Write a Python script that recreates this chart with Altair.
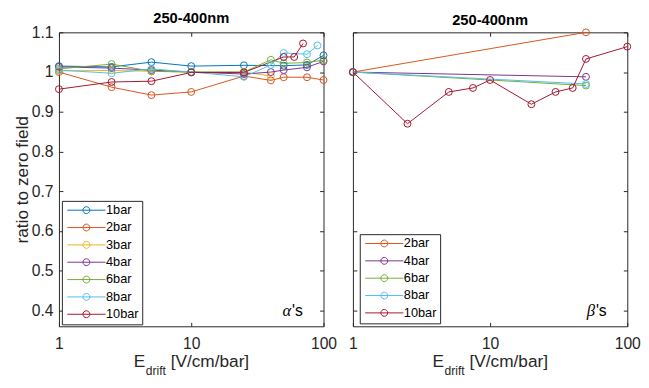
import altair as alt
import pandas as pd

FONT = "Liberation Sans"
AX = "#262626"

# ---------------- data: left panel (alpha's) ----------------
alpha_names = ["1bar", "2bar", "3bar", "4bar", "6bar", "8bar", "10bar"]
alpha_colors = ["#0072BD", "#D95319", "#EDB120", "#7E2F8E", "#77AC30", "#4DBEEE", "#A2142F"]

a1_E = [1, 2.5, 5, 10, 25, 50, 75, 100]
a1_R = [1.015, 1.013, 1.025, 1.015, 1.017, 1.016, 1.018, 1.042]
a2_E = [1, 2.5, 5, 10, 25, 40, 50, 75, 100]
a2_R = [1.0, 0.962, 0.942, 0.95, 0.99, 0.979, 0.987, 0.987, 0.98]
a3_E = [1, 2.5, 5, 10, 25, 40]
a3_R = [1.003, 1.004, 1.002, 1.0, 1.0, 0.99]
a4_E = [1, 2.5, 5, 10, 25, 40, 50, 75, 100]
a4_R = [1.013, 1.01, 1.005, 1.0, 0.995, 1.0, 1.005, 1.012, 1.027]
a6_E = [1, 2.5, 5, 10, 25, 40, 50, 75, 100]
a6_R = [1.008, 1.02, 1.002, 1.0, 1.0, 1.031, 1.022, 1.024, 1.03]
a8_E = [1, 2.5, 5, 10, 25, 40, 50, 75, 90]
a8_R = [1.005, 0.997, 1.008, 1.0, 0.988, 1.018, 1.048, 1.045, 1.067]
a10_E = [1, 2.5, 5, 10, 25, 50, 60, 70]
a10_R = [0.957, 0.975, 0.977, 0.999, 0.999, 1.038, 1.038, 1.072]

# ---------------- data: right panel (beta's) ----------------
beta_names = ["2bar", "4bar", "6bar", "8bar", "10bar"]
beta_colors = ["#D95319", "#7E2F8E", "#77AC30", "#4DBEEE", "#A2142F"]

b2_E = [1, 50]
b2_R = [1.0, 1.10]
b4_E = [1, 50]
b4_R = [1.0, 0.988]
b6_E = [1, 50]
b6_R = [1.0, 0.966]
b8_E = [1, 50]
b8_R = [1.0, 0.970]
b10_E = [1, 2.5, 5, 7.5, 10, 20, 30, 40, 50, 100]
b10_R = [1.0, 0.87, 0.95, 0.96, 0.98, 0.919, 0.95, 0.96, 1.033, 1.064]

x_ticks = [1, 10, 100]
y_ticks = [0.4, 0.5, 0.6, 0.7, 0.8, 0.9, 1.0, 1.1]
x_domain = [1, 100]
y_domain = [0.36, 1.1]
panel_title = "250-400nm"


def build_frame(names, Es, Rs):
    rows = []
    for name, ex, ry in zip(names, Es, Rs):
        for e, r in zip(ex, ry):
            rows.append({"series": name, "E": e, "R": r})
    return pd.DataFrame(rows)


alpha_df = build_frame(alpha_names,
                       [a1_E, a2_E, a3_E, a4_E, a6_E, a8_E, a10_E],
                       [a1_R, a2_R, a3_R, a4_R, a6_R, a8_R, a10_R])
beta_df = build_frame(beta_names,
                      [b2_E, b4_E, b6_E, b8_E, b10_E],
                      [b2_R, b4_R, b6_R, b8_R, b10_R])

H = 300
# legend symbol: line with hollow circle, drawn in units of 4 px (symbolSize 64)
SYM = "M-1,0H8.75M3,0A0.875,0.875 0 1,1 4.75,0A0.875,0.875 0 1,1 3,0"
F = 17.6
S = 12.3


def panel(df, names, colors, W, show_y, lx, ly, greek):
    xs = alt.Scale(type="log", domain=x_domain, nice=False)
    ys = alt.Scale(domain=y_domain, nice=False, zero=False)
    color = alt.Color(
        "series:N",
        scale=alt.Scale(domain=names, range=colors),
        sort=names,
        legend=alt.Legend(
            title=None, orient="none", legendX=lx, legendY=ly,
            symbolType=SYM, symbolSize=64, symbolStrokeWidth=1,
            labelFontSize=13, labelFont=FONT, labelColor="black",
            labelOffset=29, padding=3, rowPadding=3.7,
            strokeColor=AX, fillColor="white", cornerRadius=0,
        ),
    )
    base = alt.Chart(df)
    lines = base.mark_line(strokeWidth=1).encode(
        x=alt.X("E:Q", scale=xs, axis=alt.Axis(
            orient="bottom", values=x_ticks, format="~g", offset=-4, tickSize=4,
            domain=False, grid=False, labelPadding=10, title=None, labelFlush=False,
            labelFontSize=16, labelFont=FONT, labelColor=AX, tickColor=AX)),
        y=alt.Y("R:Q", scale=ys, axis=alt.Axis(
            orient="left", values=y_ticks, format=".1~f", offset=-4, tickSize=4,
            domain=False, grid=False, labels=show_y, labelPadding=6, labelFlush=False,
            title="ratio to zero field" if show_y else "",
            titleFontSize=F, titleFontWeight="normal", titleFont=FONT,
            titleColor=AX, titlePadding=0,
            labelFontSize=16, labelFont=FONT, labelColor=AX, tickColor=AX)),
        color=color,
    )
    pts = base.mark_point(shape="circle", filled=False, size=50, strokeWidth=1, opacity=1).encode(
        x=alt.X("E:Q", scale=xs, axis=alt.Axis(
            orient="top", values=x_ticks, offset=-4, tickSize=4, domain=False,
            grid=False, labels=False, title=None, tickColor=AX)),
        y=alt.Y("R:Q", scale=ys, axis=alt.Axis(
            orient="right", values=y_ticks, offset=-4, tickSize=4, domain=False,
            grid=False, labels=False, title=None, tickColor=AX)),
        color=color,
    )
    one = pd.DataFrame({"k": [0]})
    total = 0.667 * F + 1.667 * S + 4.835 * F
    x0 = W / 2 - total / 2
    t_E = alt.Chart(one).mark_text(text="E", font=FONT, fontSize=F, align="left",
                                   baseline="alphabetic", color=AX).encode(
        x=alt.value(x0), y=alt.value(H + 42))
    t_sub = alt.Chart(one).mark_text(text="drift", font=FONT, fontSize=S, align="left",
                                     baseline="alphabetic", color=AX).encode(
        x=alt.value(x0 + 0.667 * F + 0.5), y=alt.value(H + 50))
    t_unit = alt.Chart(one).mark_text(text="[V/cm/bar]", font=FONT, fontSize=F, align="left",
                                      baseline="alphabetic", color=AX).encode(
        x=alt.value(x0 + 0.667 * F + 1.667 * S + 0.278 * F + 0.5), y=alt.value(H + 42))
    t_greek = alt.Chart(one).mark_text(text=greek, font="Liberation Serif", fontStyle="italic",
                                       fontSize=17, align="right", baseline="alphabetic",
                                       color="black").encode(
        x=alt.value(W - 33), y=alt.value(289))
    t_s = alt.Chart(one).mark_text(text="'s", font=FONT, fontSize=16, align="right",
                                   baseline="alphabetic", color="black").encode(
        x=alt.value(W - 21), y=alt.value(289))
    return alt.layer(lines, pts, t_E, t_sub, t_unit, t_greek, t_s).resolve_axis(
        x="independent", y="independent"
    ).properties(
        width=W, height=H,
        title=alt.Title(panel_title, fontSize=15, fontWeight="bold", font=FONT,
                        color="black", offset=-1),
    )


left = panel(alpha_df, alpha_names, alpha_colors, 270, True, 3, 172, "α")
right = panel(beta_df, beta_names, beta_colors, 280, False, 7, 206, "β")

chart = alt.hconcat(left, right, spacing=30, bounds="flush").resolve_scale(
    color="independent"
).properties(
    padding={"left": 5, "top": -2, "right": 0, "bottom": 0}
).configure_view(stroke=AX, strokeWidth=1)

chart.save("out.html", embed_options={"renderer": "svg", "actions": False})
